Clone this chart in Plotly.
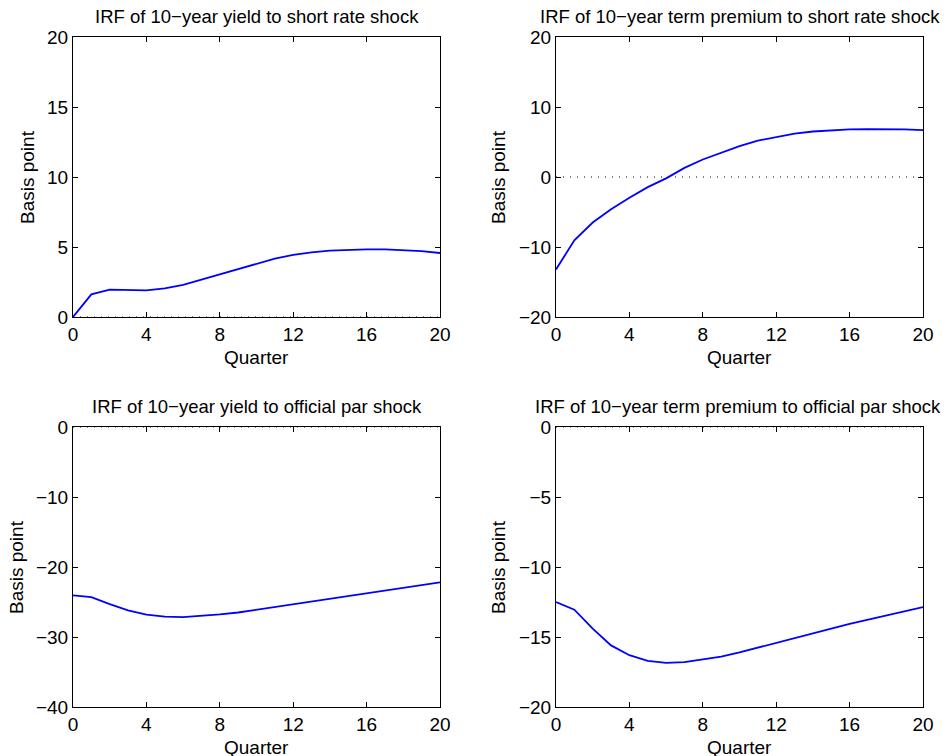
import plotly.graph_objects as go

quarters = list(range(21))

yield_short = [0.0, 1.62, 1.95, 1.93, 1.90, 2.05, 2.30, 2.67, 3.05, 3.45, 3.83,
               4.17, 4.43, 4.62, 4.74, 4.81, 4.83, 4.83, 4.79, 4.71, 4.57]
tp_short = [-13.2, -9.05, -6.5, -4.6, -2.95, -1.45, -0.2, 1.3, 2.5, 3.5, 4.4,
            5.2, 5.75, 6.2, 6.5, 6.7, 6.8, 6.85, 6.85, 6.8, 6.7]
yield_par = [-24.05, -24.3, -25.3, -26.2, -26.8, -27.1, -27.15, -27.0, -26.76, -26.5, -26.1,
             -25.8, -25.35, -24.95, -24.55, -24.2, -23.8, -23.4, -23.0, -22.6, -22.2]
tp_par = [-12.5, -13.05, -14.4, -15.6, -16.3, -16.7, -16.85, -16.8, -16.6, -16.4, -16.1,
          -15.75, -15.4, -15.07, -14.74, -14.4, -14.07, -13.76, -13.45, -13.15, -12.86]

titles = ["IRF of 10\u2212year yield to short rate shock",
          "IRF of 10\u2212year term premium to short rate shock",
          "IRF of 10\u2212year yield to official par shock",
          "IRF of 10\u2212year term premium to official par shock"]
series = [yield_short, tp_short, yield_par, tp_par]
y_ranges = [[0, 20], [-20, 20], [-40, 0], [-20, 0]]
y_ticks = [[0, 5, 10, 15, 20], [-20, -10, 0, 10, 20], [-40, -30, -20, -10, 0], [-20, -15, -10, -5, 0]]
x_ticks = [0, 4, 8, 12, 16, 20]

# page body has an 8px margin; the figure fills the rest of the window
OFF = 8
W, H = 949 - OFF, 756 - OFF
FONT = "Liberation Sans, Arial, Helvetica, sans-serif"
FS = 19
FS_TITLE = 18.5

# plot-area pixel boxes in window coordinates (left, right, top, bottom)
boxes = [(73, 440, 37, 317), (556, 923, 37, 317), (73, 440, 427, 707), (556, 923, 427, 707)]
ylab_x = [27, 498, 16, 498]
title_cx = [256.5, 739.5, 256.5, 738]

def px(x):
    return (x - OFF) / W

def py(y):
    return 1 - (y - OFF) / H

fig = go.Figure()
layout = dict(width=W, height=H, margin=dict(l=0, r=0, t=0, b=0, autoexpand=False),
              paper_bgcolor="white", plot_bgcolor="white", showlegend=False,
              font=dict(family=FONT, size=FS, color="black"))
annotations = []
for i, (l, r, t, b) in enumerate(boxes):
    n = "" if i == 0 else str(i + 1)
    xa, ya = "x" + n, "y" + n
    layout["xaxis" + n] = dict(domain=[px(l), px(r)], anchor=ya, range=[0, 20],
                               tickvals=x_ticks, ticks="inside", ticklen=5, tickcolor="black",
                               showline=True, linecolor="black", linewidth=1, mirror="ticks",
                               showgrid=False, zeroline=False, tickfont=dict(size=FS),
                               automargin=False)
    layout["yaxis" + n] = dict(domain=[py(b), py(t)], anchor=xa, range=y_ranges[i],
                               tickvals=y_ticks[i], ticks="inside", ticklen=5, tickcolor="black",
                               showline=True, linecolor="black", linewidth=1, mirror="ticks",
                               showgrid=False, zeroline=False, tickfont=dict(size=FS),
                               automargin=False)
    # zero reference line (dotted)
    fig.add_trace(go.Scatter(x=[0, 20], y=[0, 0], mode="lines", xaxis=xa, yaxis=ya,
                             line=dict(color="black", width=1, dash="1px,6px"),
                             hoverinfo="skip", cliponaxis=False))
    fig.add_trace(go.Scatter(x=quarters, y=series[i], mode="lines", xaxis=xa, yaxis=ya,
                             line=dict(color="#0000ff", width=1.8)))
    cx = (l + r) / 2
    annotations.append(dict(text=titles[i], x=px(title_cx[i]), y=py(t - 21), xref="paper",
                            yref="paper", xanchor="center", yanchor="middle", showarrow=False,
                            font=dict(size=FS_TITLE)))
    annotations.append(dict(text="Quarter", x=px(cx), y=py(b + 40), xref="paper", yref="paper",
                            xanchor="center", yanchor="middle", showarrow=False,
                            font=dict(size=FS)))
    annotations.append(dict(text="Basis point", x=px(ylab_x[i]), y=py((t + b) / 2), xref="paper",
                            yref="paper", xanchor="center", yanchor="middle", showarrow=False,
                            textangle=-90, font=dict(size=FS)))
layout["annotations"] = annotations
fig.update_layout(**layout)
fig.write_html("out.html")
